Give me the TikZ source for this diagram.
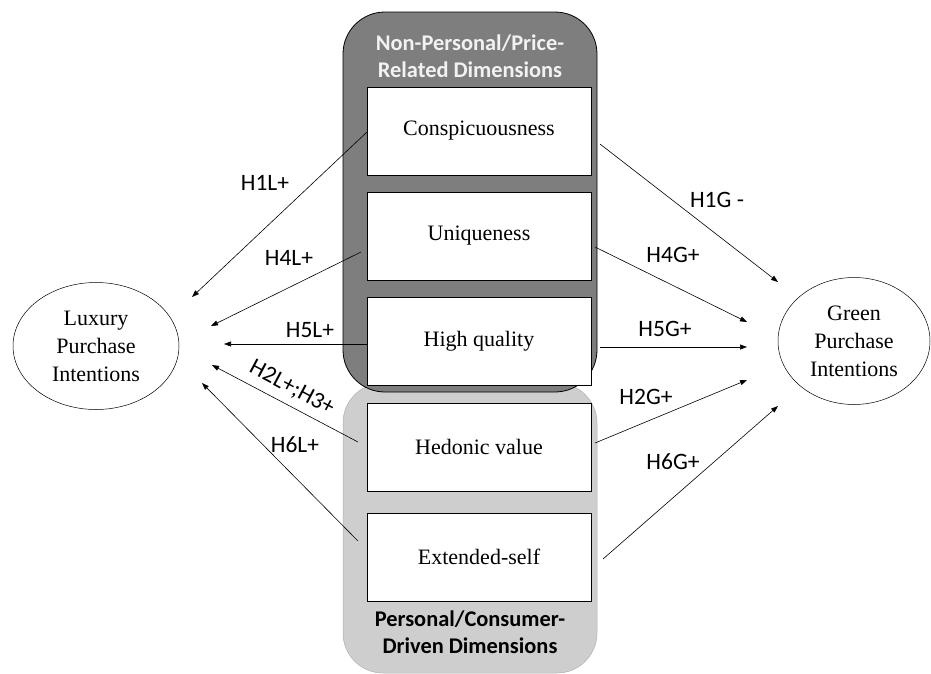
\documentclass[tikz,border=0pt]{standalone}
\usepackage{fontspec}
\setmainfont{Liberation Serif}
\newfontfamily\calib{Carlito}
\usetikzlibrary{arrows.meta,shapes.geometric}
\definecolor{darkpanel}{RGB}{126,126,126}
\definecolor{lightpanel}{RGB}{206,206,206}
\definecolor{titlewhite}{RGB}{242,242,242}
\begin{document}
\begin{tikzpicture}[x=1pt,y=-1pt,
  dimbox/.style={draw=black,line width=0.8pt,fill=white,minimum width=224pt,minimum height=88pt,inner sep=0pt,font=\fontsize{22}{26}\selectfont},
  oval/.style={draw=black,line width=0.5pt,ellipse,inner sep=0pt,align=center,font=\fontsize{22}{28}\selectfont},
  hyp/.style={font=\calib\fontsize{23.5}{26}\selectfont,inner sep=0pt},
  title/.style={font=\calib\bfseries\fontsize{22.4}{27}\selectfont,align=center,inner sep=0pt},
  conn/.style={line width=0.6pt,-{Triangle[length=7pt,width=5pt]}}]
\useasboundingbox (0,0) rectangle (931,673);
% panels
\node[draw=lightpanel!85!black,line width=0.5pt,fill=lightpanel,rounded corners=40pt,minimum width=254pt,minimum height=290pt,inner sep=0pt] (lightp) at (470,528) {};
\node[draw=black,line width=0.8pt,fill=darkpanel,rounded corners=42pt,minimum width=254pt,minimum height=380pt,inner sep=0pt] (darkp) at (470,202) {};
\node[title,text=titlewhite] (ttop) at (470,56) {Non-Personal/Price-\\Related Dimensions};
\node[title,text=black] (tbot) at (470,632) {Personal/Consumer-\\Driven Dimensions};
% boxes
\node[dimbox] (consp) at (479,131) {Conspicuousness};
\node[dimbox] (uniq) at (479,236) {Uniqueness};
\node[dimbox] (hq) at (479,341) {High quality};
\node[dimbox] (hed) at (479,447) {Hedonic value};
\node[dimbox] (ext) at (479,557) {Extended-self};
% ellipses
\node[oval,minimum width=166pt,minimum height=127pt] (lux) at (96,346) {Luxury\\Purchase\\Intentions};
\node[oval,minimum width=152pt,minimum height=127pt] (green) at (854,341) {Green\\Purchase\\Intentions};
% start points
\coordinate (s1l) at (367,132);
\coordinate (s4l) at (361,252);
\coordinate (s5l) at (367,344);
\coordinate (s2l) at (358,442);
\coordinate (s6l) at (358,541);
\coordinate (s1g) at (600,144);
\coordinate (s4g) at (595,247);
\coordinate (s5g) at (600,347);
\coordinate (s2g) at (595,443);
\coordinate (s6g) at (603,559);
% end points
\coordinate (e1l) at (192,297);
\coordinate (e4l) at (211,326);
\coordinate (e5l) at (224,344);
\coordinate (e2l) at (212,365);
\coordinate (e6l) at (202,383);
\coordinate (e1g) at (778,282);
\coordinate (e4g) at (747,322);
\coordinate (e5g) at (747,347);
\coordinate (e2g) at (747,380);
\coordinate (e6g) at (778,406);
% connectors
\draw[conn] (s1l) -- (e1l);
\draw[conn] (s4l) -- (e4l);
\draw[conn] (s5l) -- (e5l);
\draw[conn] (s2l) -- (e2l);
\draw[conn] (s6l) -- (e6l);
\draw[conn] (s1g) -- (e1g);
\draw[conn] (s4g) -- (e4g);
\draw[conn] (s5g) -- (e5g);
\draw[conn] (s2g) -- (e2g);
\draw[conn] (s6g) -- (e6g);
% labels
\node[hyp] (l1l) at (265,183) {H1L+};
\node[hyp] (l4l) at (289,258) {H4L+};
\node[hyp] (l5l) at (310,330) {H5L+};
\node[hyp,rotate=-28] (l2l) at (292,388) {H2L+;H3+};
\node[hyp] (l6l) at (295,445) {H6L+};
\node[hyp] (l1g) at (717,200) {H1G -};
\node[hyp] (l4g) at (673,255) {H4G+};
\node[hyp] (l5g) at (665,329) {H5G+};
\node[hyp] (l2g) at (646,397) {H2G+};
\node[hyp] (l6g) at (673,462) {H6G+};
\end{tikzpicture}
\end{document}
